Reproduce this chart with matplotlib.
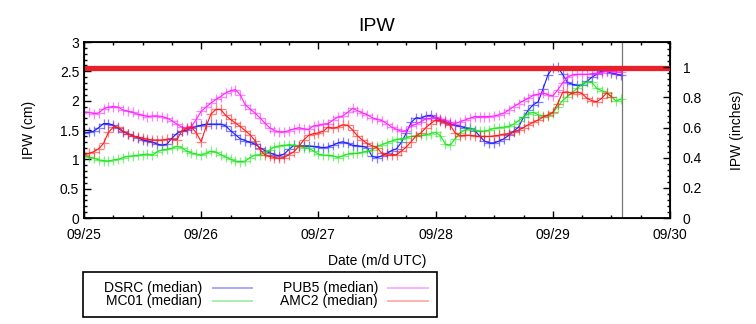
import numpy as np
import matplotlib
matplotlib.use("Agg")
import matplotlib.pyplot as plt
from matplotlib.lines import Line2D
from matplotlib.patches import Rectangle
from matplotlib.ticker import MultipleLocator

plt.rcParams['font.family'] = ['Liberation Sans', 'DejaVu Sans']

# hourly samples starting 09/25 00 UTC
dsrc = [1.45, 1.46, 1.48, 1.54, 1.61, 1.61, 1.58, 1.53, 1.47, 1.44, 1.40, 1.37, 1.33, 1.31, 1.29, 1.26,
        1.24, 1.26, 1.36, 1.44, 1.48, 1.50, 1.53, 1.56, 1.58, 1.60, 1.60, 1.60, 1.60, 1.57, 1.49, 1.42,
        1.35, 1.32, 1.29, 1.26, 1.20, 1.15, 1.11, 1.08, 1.06, 1.09, 1.17, 1.24, 1.23, 1.23, 1.23, 1.22,
        1.21, 1.20, 1.21, 1.24, 1.28, 1.30, 1.27, 1.24, 1.23, 1.22, 1.20, 1.05, 1.03, 1.06, 1.10, 1.15,
        1.18, 1.29, 1.45, 1.63, 1.71, 1.70, 1.74, 1.75, 1.71, 1.67, 1.64, 1.61, 1.58, 1.56, 1.54, 1.53,
        1.49, 1.40, 1.31, 1.28, 1.28, 1.31, 1.35, 1.41, 1.48, 1.55, 1.72, 1.84, 1.93, 1.98, 2.20, 2.44,
        2.56, 2.57, 2.45, 2.31, 2.28, 2.26, 2.27, 2.33, 2.40, 2.45, 2.50, 2.50, 2.47, 2.45, 2.43]
mc01 = [1.06, 1.04, 1.02, 0.99, 0.98, 0.97, 0.99, 1.00, 1.03, 1.05, 1.06, 1.07, 1.08, 1.09, 1.07, 1.13,
        1.16, 1.17, 1.19, 1.22, 1.20, 1.14, 1.11, 1.09, 1.07, 1.10, 1.14, 1.12, 1.08, 1.04, 1.00, 0.97,
        0.96, 0.97, 1.03, 1.07, 1.08, 1.11, 1.16, 1.21, 1.23, 1.24, 1.25, 1.24, 1.23, 1.20, 1.19, 1.14,
        1.09, 1.07, 1.07, 1.06, 1.03, 1.06, 1.09, 1.10, 1.10, 1.12, 1.14, 1.16, 1.22, 1.25, 1.28, 1.31,
        1.34, 1.35, 1.37, 1.39, 1.40, 1.41, 1.42, 1.44, 1.46, 1.40, 1.26, 1.24, 1.35, 1.45, 1.50, 1.52,
        1.50, 1.48, 1.48, 1.50, 1.53, 1.54, 1.55, 1.56, 1.60, 1.66, 1.72, 1.78, 1.80, 1.76, 1.74, 1.74,
        1.79, 1.90, 2.00, 2.07, 2.14, 2.21, 2.28, 2.32, 2.31, 2.21, 2.17, 2.14, 2.07, 1.99, 2.03]
pub5 = [1.80, 1.80, 1.78, 1.79, 1.86, 1.89, 1.90, 1.89, 1.84, 1.82, 1.80, 1.77, 1.75, 1.73, 1.74, 1.74,
        1.73, 1.70, 1.66, 1.60, 1.55, 1.53, 1.56, 1.68, 1.82, 1.89, 1.96, 2.02, 2.07, 2.13, 2.17, 2.19,
        2.10, 1.93, 1.86, 1.79, 1.71, 1.62, 1.54, 1.49, 1.47, 1.47, 1.49, 1.52, 1.54, 1.52, 1.51, 1.57,
        1.58, 1.60, 1.61, 1.67, 1.72, 1.74, 1.80, 1.87, 1.83, 1.79, 1.76, 1.71, 1.68, 1.66, 1.61, 1.55,
        1.51, 1.48, 1.49, 1.57, 1.60, 1.64, 1.69, 1.70, 1.72, 1.69, 1.67, 1.63, 1.61, 1.64, 1.67, 1.70,
        1.73, 1.73, 1.73, 1.73, 1.74, 1.76, 1.79, 1.84, 1.90, 1.95, 2.00, 2.04, 2.09, 2.11, 2.13, 2.10,
        2.08, 2.18, 2.30, 2.40, 2.44, 2.45, 2.45, 2.45, 2.46, 2.47, 2.48, 2.50, 2.50, 2.49, 2.49]
amc2 = [1.08, 1.10, 1.13, 1.18, 1.27, 1.46, 1.55, 1.55, 1.48, 1.43, 1.40, 1.38, 1.36, 1.34, 1.33, 1.33,
        1.33, 1.34, 1.34, 1.33, 1.48, 1.53, 1.55, 1.45, 1.30, 1.56, 1.77, 1.85, 1.85, 1.75, 1.68, 1.62,
        1.56, 1.49, 1.42, 1.32, 1.17, 1.08, 1.05, 1.03, 1.02, 1.03, 1.08, 1.13, 1.22, 1.33, 1.41, 1.44,
        1.45, 1.48, 1.55, 1.53, 1.55, 1.59, 1.58, 1.50, 1.40, 1.33, 1.27, 1.23, 1.20, 1.10, 1.07, 1.08,
        1.08, 1.14, 1.21, 1.30, 1.40, 1.45, 1.54, 1.61, 1.67, 1.65, 1.62, 1.58, 1.45, 1.40, 1.41, 1.41,
        1.40, 1.39, 1.39, 1.39, 1.40, 1.41, 1.43, 1.44, 1.46, 1.50, 1.54, 1.59, 1.63, 1.67, 1.72, 1.76,
        1.80, 1.95, 2.14, 2.15, 2.12, 2.15, 2.12, 2.04, 2.00, 1.98, 2.04, 2.13, 2.07]

threshold = 2.565     # cm, thick red line
now_day = 4.588       # vertical marker (days after 09/25 00 UTC)
day_labels = ["09/25", "09/26", "09/27", "09/28", "09/29", "09/30"]
cm_ticks = [0, 0.5, 1, 1.5, 2, 2.5, 3]
cm_labels = ["0", "0.5", "1", "1.5", "2", "2.5", "3"]
in_ticks = [0, 0.2, 0.4, 0.6, 0.8, 1.0]
in_labels = ["0", "0.2", "0.4", "0.6", "0.8", "1"]

series = [("DSRC (median)", dsrc, "#1a1aff", "#a8a8ff"),
          ("MC01 (median)", mc01, "#1ee61e", "#a8f0a8"),
          ("PUB5 (median)", pub5, "#ff22ff", "#ffb0ff"),
          ("AMC2 (median)", amc2, "#ff1a1a", "#ffb0b0")]

W, H = 756, 324
fig = plt.figure(figsize=(W / 100, H / 100), dpi=100)
ax = fig.add_axes([84 / W, 1 - 218 / H, 586 / W, 176 / H])

for name, vals, col, _ in series:
    t = np.arange(len(vals)) / 24.0
    ax.plot(t, vals, color=col, lw=0.8, zorder=3)
    ax.plot(t, vals, ls="none", marker="+", ms=7, mew=0.9, color=col, alpha=0.55, zorder=3)

ax.axhline(threshold, color="#e8202a", lw=3.8, zorder=4)
ax.axvline(now_day, color="#777777", lw=0.9, zorder=2)

ax.set_xlim(0, 5)
ax.set_ylim(0, 3)
ax.set_xticks(range(6))
ax.set_xticklabels(day_labels)
ax.xaxis.set_minor_locator(MultipleLocator(0.25))
ax.set_yticks(cm_ticks)
ax.set_yticklabels(cm_labels)
ax.yaxis.set_minor_locator(MultipleLocator(0.1))
ax.tick_params(which="both", direction="in", top=True, labelsize=10, width=1)
ax.tick_params(which="major", length=5)
ax.tick_params(which="minor", length=2.5)
ax.tick_params(axis="x", pad=7)
for s in ax.spines.values():
    s.set_linewidth(1.3)

ax2 = ax.twinx()
ax2.set_ylim(0, 1.168)
ax2.set_yticks(in_ticks)
ax2.set_yticklabels(in_labels)
ax2.yaxis.set_minor_locator(MultipleLocator(0.04))
ax2.tick_params(which="both", direction="in", labelsize=10, width=1, pad=9)
ax2.tick_params(which="major", length=5)
ax2.tick_params(which="minor", length=2.5)

ax.set_title("IPW", fontsize=14, pad=8)
ax.set_ylabel("IPW (cm)", fontsize=10, labelpad=17)
ax2.set_ylabel("IPW (inches)", fontsize=10, labelpad=20)
ax.set_xlabel("Date (m/d UTC)", fontsize=10, labelpad=9)

# gnuplot-style key below the plot: right-aligned text, sample line after it
fig.add_artist(Rectangle((83 / W, 1 - 317 / H), 354 / W, 45 / H, transform=fig.transFigure,
                         fill=False, edgecolor="black", lw=1.2))
text_x = [202, 378]
line_x = [(213, 252), (388, 428)]
row_y = [288, 301]
for i, (name, _, _, pale) in enumerate(series):
    c, r = divmod(i, 2)
    y = 1 - row_y[r] / H
    fig.text(text_x[c] / W, y, name, ha="right", va="center", fontsize=10)
    fig.add_artist(Line2D([line_x[c][0] / W, line_x[c][1] / W], [y, y],
                          transform=fig.transFigure, color=pale, lw=1.4))

fig.savefig("out.png", dpi=100)
